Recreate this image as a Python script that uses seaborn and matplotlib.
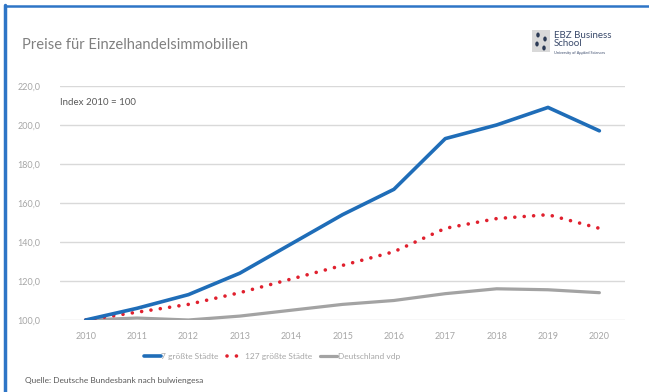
import matplotlib
matplotlib.use("Agg")
import matplotlib.pyplot as plt
import matplotlib.patches as mpatches
from matplotlib.lines import Line2D
import seaborn as sns
import pandas as pd

years = [2010, 2011, 2012, 2013, 2014, 2015, 2016, 2017, 2018, 2019, 2020]
top7 = [100, 106, 113, 124, 139, 154, 167, 193, 200, 209, 197]
top127 = [100, 104, 108, 114, 121, 128, 135, 147, 152, 154, 147]
germany = [100, 101, 100, 102, 105, 108, 110, 113.5, 116, 115.5, 114]
series_names = ["7 größte Städte", "127 größte Städte", "Deutschland vdp"]
y_ticks = [100, 120, 140, 160, 180, 200, 220]

df = pd.DataFrame({"Jahr": years, series_names[0]: top7,
                   series_names[1]: top127, series_names[2]: germany})

sns.set_theme(style="white")
plt.rcParams["font.family"] = ["Lato", "DejaVu Sans"]

fig = plt.figure(figsize=(6.49, 3.92), dpi=100)
ax = fig.add_axes([0.0925, 0.1837, 0.8706, 0.597])

blue = "#1F6DB8"
red = "#E0202E"
grey = "#A3A3A3"

sns.lineplot(data=df, x="Jahr", y=series_names[2], ax=ax, color=grey,
             linewidth=2.3, label=series_names[2], zorder=2)
sns.lineplot(data=df, x="Jahr", y=series_names[1], ax=ax, color=red,
             linewidth=2.6, label=series_names[1], zorder=3,
             dashes=False)
sns.lineplot(data=df, x="Jahr", y=series_names[0], ax=ax, color=blue,
             linewidth=2.6, label=series_names[0], zorder=4)

# dotted style for the 127-city series: round caps on zero-length dashes
red_line = ax.get_lines()[1]
red_line.set_dashes([0.01, 2.6])
red_line.set_dash_capstyle("round")

ax.set_xlim(2009.5, 2020.5)
ax.set_ylim(100, 220)
ax.set_xticks(years)
ax.set_xticklabels([str(y) for y in years])
ax.set_yticks(y_ticks)
ax.set_yticklabels([f"{v:.1f}".replace(".", ",") for v in y_ticks])
ax.set_xlabel("")
ax.set_ylabel("")
ax.grid(axis="y", color="#D9D9D9", linewidth=1.0)
ax.set_axisbelow(True)
for s in ax.spines.values():
    s.set_visible(False)
ax.tick_params(axis="both", length=0, labelsize=6.5, labelcolor="#A6A6A6")
ax.tick_params(axis="x", pad=9)
ax.tick_params(axis="y", pad=14)

ax.text(2009.5, 211.3, "Index 2010 = 100", fontsize=7, color="#595959",
        va="center", ha="left")

handles = [Line2D([], [], color=blue, linewidth=2.6),
           Line2D([], [], color=red, linewidth=2.6, linestyle=(0, (0.01, 2.6)),
                  dash_capstyle="round"),
           Line2D([], [], color=grey, linewidth=2.3)]
ax.legend(handles, series_names, loc="upper center",
          bbox_to_anchor=(0.375, -0.11), ncol=3, frameon=False,
          fontsize=6.0, labelcolor="#A6A6A6", handlelength=2.0,
          handletextpad=0.1, columnspacing=1.0)

# title and source
fig.text(22 / 649, 1 - 45 / 392, "Preise für Einzelhandelsimmobilien",
         fontsize=10.6, color="#808080", va="center", ha="left")
fig.text(25 / 649, 1 - 381 / 392, "Quelle: Deutsche Bundesbank nach bulwiengesa",
         fontsize=6, color="#595959", va="center", ha="left")

# logo
fig.add_artist(mpatches.Rectangle((532 / 649, 1 - 52 / 392), 18 / 649, 22 / 392,
                                  transform=fig.transFigure, facecolor="#D9D9D9",
                                  edgecolor="none"))
for (px, py) in [(538, 35), (545, 39), (537, 44), (544, 48)]:
    fig.add_artist(mpatches.Ellipse((px / 649, 1 - py / 392), 3.5 / 649, 5 / 392,
                                    transform=fig.transFigure,
                                    facecolor="#2B3A55", edgecolor="none"))
fig.text(554 / 649, 1 - 35 / 392, "EBZ Business", fontsize=7, color="#3A4A6B",
         va="center", ha="left")
fig.text(554 / 649, 1 - 44 / 392, "School", fontsize=7, color="#3A4A6B",
         va="center", ha="left")
fig.text(554 / 649, 1 - 53 / 392, "University of Applied Sciences", fontsize=2.8,
         color="#3A4A6B", va="center", ha="left")

# frame lines along left and top edges
fig.add_artist(Line2D([4.5 / 649, 4.5 / 649], [0, 1 - 5 / 392],
                      transform=fig.transFigure, color="#2E75C6", linewidth=2.5))
fig.add_artist(Line2D([4.5 / 649, 1], [1 - 6 / 392, 1 - 6 / 392],
                      transform=fig.transFigure, color="#2E75C6", linewidth=1.8))

fig.savefig("out.png", dpi=100)
